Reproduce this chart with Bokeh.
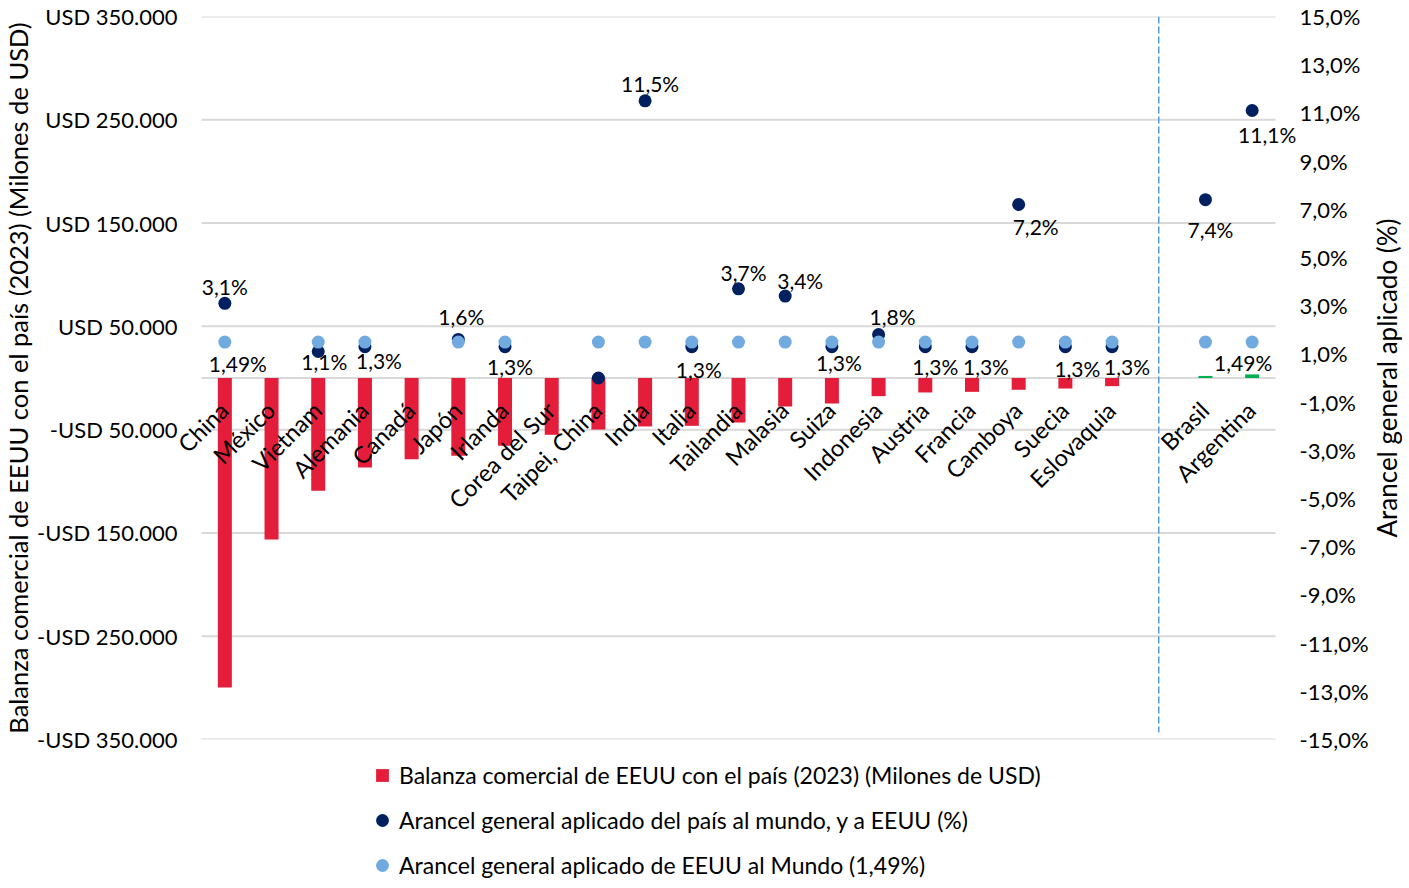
from math import pi
from bokeh.plotting import figure
from bokeh.layouts import column, row
from bokeh.models import (Range1d, LinearAxis, FixedTicker, ColumnDataSource,
                          Legend, LegendItem, LabelSet)
from bokeh.core.properties import value
from bokeh.embed import file_html
from bokeh.resources import INLINE

# ---------------- data ----------------
categories = ["China", "México", "Vietnam", "Alemania", "Canadá", "Japón", "Irlanda",
              "Corea del Sur", "Taipei, China", "India", "Italia", "Tailandia", "Malasia",
              "Suiza", "Indonesia", "Austria", "Francia", "Camboya", "Suecia",
              "Eslovaquia", "", "Brasil", "Argentina"]
balance = [-299600, -156300, -109200, -86600, -78600, -75300, -65600, -55000, -49900,
           -46900, -46300, -43100, -27600, -24700, -17600, -14000, -13400, -11400,
           -10200, -7900, None, 2000, 3500]
tariff_country = [3.1, None, 1.1, 1.3, None, 1.6, 1.3, None, 0.0, 11.5, 1.3, 3.7, 3.4,
                  1.3, 1.8, 1.3, 1.3, 7.2, 1.3, 1.3, None, 7.4, 11.1]
tariff_us = [1.49, None, 1.49, 1.49, None, 1.49, 1.49, None, 1.49, 1.49, 1.49, 1.49, 1.49,
             1.49, 1.49, 1.49, 1.49, 1.49, 1.49, 1.49, None, 1.49, 1.49]
us_label_countries = ["China", "Argentina"]

left_ticks = [-350000, -250000, -150000, -50000, 50000, 150000, 250000, 350000]
left_tick_labels = ["-USD 350.000", "-USD 250.000", "-USD 150.000", "-USD 50.000",
                    "USD 50.000", "USD 150.000", "USD 250.000", "USD 350.000"]
right_ticks = [-15, -13, -11, -9, -7, -5, -3, -1, 1, 3, 5, 7, 9, 11, 13, 15]
right_tick_labels = ["-15,0%", "-13,0%", "-11,0%", "-9,0%", "-7,0%", "-5,0%", "-3,0%",
                     "-1,0%", "1,0%", "3,0%", "5,0%", "7,0%", "9,0%", "11,0%", "13,0%",
                     "15,0%"]

legend_labels = ["Balanza comercial de EEUU con el país (2023) (Milones de USD)",
                 "Arancel general aplicado del país al mundo, y a EEUU (%)",
                 "Arancel general aplicado de EEUU al Mundo (1,49%)"]
left_title = "Balanza comercial de EEUU con el país (2023) (Milones de USD)"
right_title = "Arancel general aplicado (%)"

# ---------------- styling / placement ----------------
RED = "#E31D3A"
GREEN = "#00B050"
NAVY = "#002060"
LIGHT = "#70AADF"
GRID = "#D9D9D9"
DIVIDER = "#5B9BD5"
FONT = "Lato"

# label offsets in screen pixels (dx, dy; dy positive = downwards)
country_label_offsets = {
    "China": (0, -17), "Vietnam": (6, 10), "Alemania": (14, 14), "Japón": (3, -23),
    "Irlanda": (5, 20), "India": (5, -17), "Italia": (7, 23), "Tailandia": (5, -16),
    "Malasia": (15, -16), "Suiza": (7, 16), "Indonesia": (14, -18), "Austria": (10, 20),
    "Francia": (14, 20), "Camboya": (17, 22), "Suecia": (12, 22), "Eslovaquia": (15, 20),
    "Brasil": (5, 30), "Argentina": (15, 24),
}
us_label_offsets = {"China": (13, 21), "Argentina": (-9, 20)}

TOTAL_W = 1393
SLOT_PX = 46.7                # width of one category slot
PAD_L_PX, PAD_R_PX = 24, 21   # room for labels that stick out of the slot area
N = len(categories)
FRAME_W = int(round(N * SLOT_PX + PAD_L_PX + PAD_R_PX))
FRAME_H = 723
BORDER_L, BORDER_R, BORDER_T, BORDER_B = 172, 71, 16, 13
MAIN_W = BORDER_L + FRAME_W + BORDER_R
TITLE_W = TOTAL_W - MAIN_W
MAIN_H = BORDER_T + FRAME_H + BORDER_B
LEGEND_H = 130
YMAX = 350000
PMAX = 15

xs = list(range(N))
x_lo = -0.5 - PAD_L_PX / SLOT_PX
x_hi = N - 0.5 + PAD_R_PX / SLOT_PX

p = figure(frame_width=FRAME_W, frame_height=FRAME_H,
           x_range=Range1d(x_lo, x_hi), y_range=Range1d(-YMAX, YMAX),
           output_backend="svg", toolbar_location=None,
           min_border_left=BORDER_L, min_border_right=BORDER_R,
           min_border_top=BORDER_T, min_border_bottom=BORDER_B)
p.outline_line_color = None
p.background_fill_color = "white"
p.extra_y_ranges = {"pct": Range1d(-PMAX, PMAX)}

# axes
p.xaxis.visible = False
p.xgrid.visible = False
p.ygrid.visible = False
yax = p.yaxis[0]
yax.ticker = FixedTicker(ticks=left_ticks)
yax.major_label_overrides = {t: l for t, l in zip(left_ticks, left_tick_labels)}
yax.axis_line_color = None
yax.major_tick_line_color = None
yax.minor_tick_line_color = None
yax.major_tick_out = 0
yax.major_tick_in = 0
yax.major_label_standoff = 0
yax.major_label_text_font = FONT
yax.major_label_text_font_size = "22px"
yax.major_label_text_color = "black"
yax.axis_label = left_title
yax.axis_label_text_font = FONT
yax.axis_label_text_font_size = "25.5px"
yax.axis_label_text_font_style = "normal"
yax.axis_label_text_color = "black"
yax.axis_label_standoff = 1

rax = LinearAxis(y_range_name="pct", ticker=FixedTicker(ticks=right_ticks))
rax.major_label_overrides = {t: l for t, l in zip(right_ticks, right_tick_labels)}
rax.axis_line_color = None
rax.major_tick_line_color = None
rax.minor_tick_line_color = None
rax.major_tick_out = 0
rax.major_tick_in = 0
rax.major_label_standoff = 3
rax.major_label_text_font = FONT
rax.major_label_text_font_size = "22px"
rax.major_label_text_color = "black"
p.add_layout(rax, "right")

# horizontal grid lines over the category area (at the left-axis ticks, plus zero)
grid_y = left_ticks + [0]
p.segment(x0=[-0.5] * len(grid_y), x1=[N - 0.5] * len(grid_y), y0=grid_y, y1=grid_y,
          line_color=GRID, line_width=2)

# bars
bx = [x for x, b in zip(xs, balance) if b is not None]
bt = [b for b in balance if b is not None]
bc = [RED if b < 0 else GREEN for b in bt]
p.vbar(x=bx, top=bt, bottom=0, width=0.3, fill_color=bc, line_color=None)

# divider between groups (located at the empty slot)
gap = categories.index("")
p.segment(x0=[gap], x1=[gap], y0=[YMAX], y1=[-0.98 * YMAX],
          line_color=DIVIDER, line_width=1.5, line_dash="7 3")

# country tariff dots
cx = [x for x, t in zip(xs, tariff_country) if t is not None]
cy = [t for t in tariff_country if t is not None]
p.scatter(x=cx, y=cy, size=13, marker="circle", fill_color=NAVY, line_color=None,
          y_range_name="pct")
# US tariff dots
ux = [x for x, t in zip(xs, tariff_us) if t is not None]
uy = [t for t in tariff_us if t is not None]
p.scatter(x=ux, y=uy, size=13, marker="circle", fill_color=LIGHT, line_color=None,
          y_range_name="pct")

# data labels
lx, ly, lt, ldx, ldy = [], [], [], [], []
for x, c, t in zip(xs, categories, tariff_country):
    if t is None or t == 0 or c not in country_label_offsets:
        continue
    lx.append(x); ly.append(t); lt.append(f"{t:.1f}".replace(".", ",") + "%")
    ldx.append(country_label_offsets[c][0]); ldy.append(-country_label_offsets[c][1])
for x, c, t in zip(xs, categories, tariff_us):
    if t is None or c not in us_label_countries:
        continue
    lx.append(x); ly.append(t); lt.append(f"{t:.2f}".replace(".", ",") + "%")
    ldx.append(us_label_offsets[c][0]); ldy.append(-us_label_offsets[c][1])
lsrc = ColumnDataSource(dict(x=lx, y=ly, text=lt, dx=ldx, dy=ldy))
p.add_layout(LabelSet(x="x", y="y", text="text", x_offset="dx", y_offset="dy",
                      source=lsrc, y_range_name="pct", text_align="center",
                      text_baseline="middle", text_font=value(FONT),
                      text_font_size="21px", text_color="black"))

# category labels (rotated, along the zero line)
csrc = ColumnDataSource(dict(x=xs, y=[0] * N, text=categories))
p.add_layout(LabelSet(x="x", y="y", text="text", source=csrc, angle=pi / 4,
                      x_offset=-1, y_offset=-28, text_align="right",
                      text_baseline="middle", text_font=value(FONT),
                      text_font_size="23.5px", text_color="black"))

# ---------------- right-axis title (own narrow strip, reads bottom-to-top) ----------
tf = figure(width=TITLE_W, height=MAIN_H, output_backend="svg", toolbar_location=None,
            x_axis_location=None, y_axis_location=None, min_border=0,
            x_range=Range1d(0, 1), y_range=Range1d(0, 1))
tf.outline_line_color = None
tf.grid.visible = False
tf.add_layout(LabelSet(x="x", y="y", text="text",
                       source=ColumnDataSource(dict(x=[0.5], y=[0.5], text=[right_title])),
                       angle=pi / 2, text_align="center", text_baseline="middle",
                       text_font=value(FONT), text_font_size="26px",
                       text_color="black"))

# ---------------- legend (own strip below the chart) ----------------
lg = figure(width=TOTAL_W, height=LEGEND_H, output_backend="svg", toolbar_location=None,
            x_axis_location=None, y_axis_location=None,
            min_border=0, x_range=Range1d(0, 1), y_range=Range1d(0, 1))
lg.outline_line_color = None
lg.grid.visible = False
# proxy renderers that only feed the legend (their point lies outside the view)
r1 = lg.scatter(x=[-10], y=[-10], marker="square", size=12, fill_color=RED, line_color=None)
r2 = lg.scatter(x=[-10], y=[-10], marker="circle", size=12, fill_color=NAVY, line_color=None)
r3 = lg.scatter(x=[-10], y=[-10], marker="circle", size=12, fill_color=LIGHT, line_color=None)
legend = Legend(items=[LegendItem(label=legend_labels[0], renderers=[r1]),
                       LegendItem(label=legend_labels[1], renderers=[r2]),
                       LegendItem(label=legend_labels[2], renderers=[r3])],
                orientation="vertical", location=(366, 1),
                border_line_color=None, background_fill_alpha=0,
                label_text_font=FONT, label_text_font_size="23px",
                label_text_color="black",
                glyph_width=32, glyph_height=32, label_height=32,
                spacing=13, padding=0, margin=0, label_standoff=1)
lg.add_layout(legend)

layout = column(row(p, tf, spacing=0), lg, spacing=0)
open("out.html", "w").write(file_html(layout, INLINE))
